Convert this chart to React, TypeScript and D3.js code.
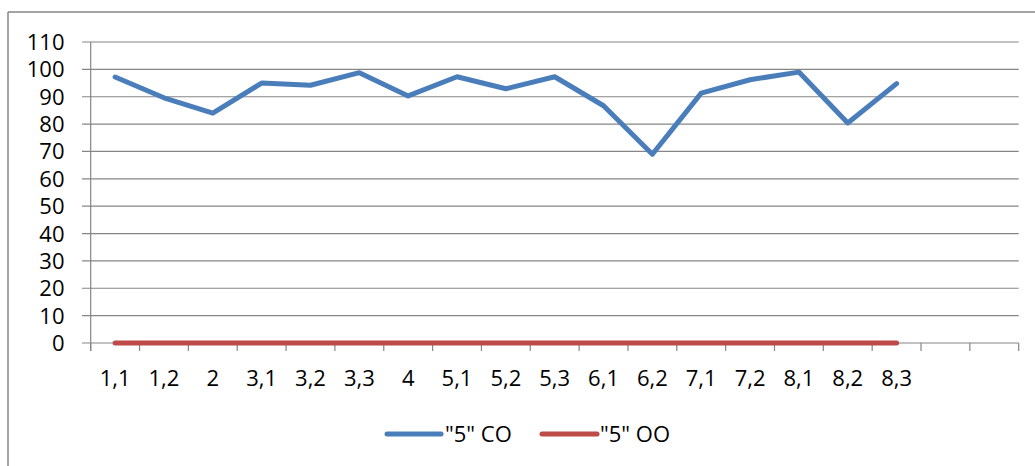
import React from "react";
import * as d3 from "d3";

const categories = ["1,1","1,2","2","3,1","3,2","3,3","4","5,1","5,2","5,3","6,1","6,2","7,1","7,2","8,1","8,2","8,3","",""];
const seriesCO = [97.2, 89.6, 84.0, 95.0, 94.2, 98.8, 90.3, 97.3, 92.9, 97.3, 86.7, 69.0, 91.3, 96.2, 99.0, 80.4, 94.8];
const seriesOO = [0,0,0,0,0,0,0,0,0,0,0,0,0,0,0,0,0];
const yTicks = [0,10,20,30,40,50,60,70,80,90,100,110];
const seriesNames = ['"5" CO', '"5" OO'];

const W = 1035, H = 466;
const left = 90.7, right = 1018.7, top = 42, bottom = 343;
const FONT = "'Open Sans', sans-serif";
const GRID = "#868686";
const BLUE = "#4a7ebb";
const RED = "#be4b48";
const FS = 22;

export default function App() {
  const x = d3.scaleBand<number>().domain(d3.range(categories.length)).range([left, right]);
  const y = d3.scaleLinear().domain([0, 110]).range([bottom, top]);
  const cx = (i: number) => (x(i) as number) + x.bandwidth() / 2;
  const line = d3.line<number>().x((_, i) => cx(i)).y((d) => y(d));
  return (
    <svg width={W} height={H} style={{ position: "absolute", left: 0, top: 0, background: "#fff" }}>
      <line x1={8} x2={W} y1={12} y2={12} stroke={GRID} strokeWidth={1.5} />
      <line x1={8} x2={8} y1={12} y2={H} stroke={GRID} strokeWidth={1.5} />
      {yTicks.map((t) => (
        <g key={t}>
          <line x1={82} x2={right} y1={y(t)} y2={y(t)} stroke={GRID} strokeWidth={1.2} />
          <text x={64.5} y={y(t) + 8} textAnchor="end" fontFamily={FONT} fontSize={FS} fill="#000">{t}</text>
        </g>
      ))}
      <line x1={left} x2={left} y1={top} y2={bottom + 8} stroke={GRID} strokeWidth={1.2} />
      {d3.range(categories.length + 1).map((i) => {
        const xx = i < categories.length ? (x(i) as number) : right;
        return <line key={i} x1={xx} x2={xx} y1={bottom} y2={bottom + 8} stroke={GRID} strokeWidth={1.2} />;
      })}
      {categories.map((c, i) => (
        <text key={i} x={cx(i)} y={386} textAnchor="middle" fontFamily={FONT} fontSize={FS} fill="#000">{c}</text>
      ))}
      <path d={line(seriesOO) || ""} fill="none" stroke={RED} strokeWidth={5} strokeLinecap="round" strokeLinejoin="round" />
      <path d={line(seriesCO) || ""} fill="none" stroke={BLUE} strokeWidth={5} strokeLinecap="round" strokeLinejoin="round" />
      <line x1={387} x2={441} y1={434} y2={434} stroke={BLUE} strokeWidth={5} strokeLinecap="round" />
      <text x={445} y={442} fontFamily={FONT} fontSize={FS} fill="#000">{seriesNames[0]}</text>
      <line x1={542} x2={597} y1={434} y2={434} stroke={RED} strokeWidth={5} strokeLinecap="round" />
      <text x={600} y={442} fontFamily={FONT} fontSize={FS} fill="#000">{seriesNames[1]}</text>
    </svg>
  );
}
